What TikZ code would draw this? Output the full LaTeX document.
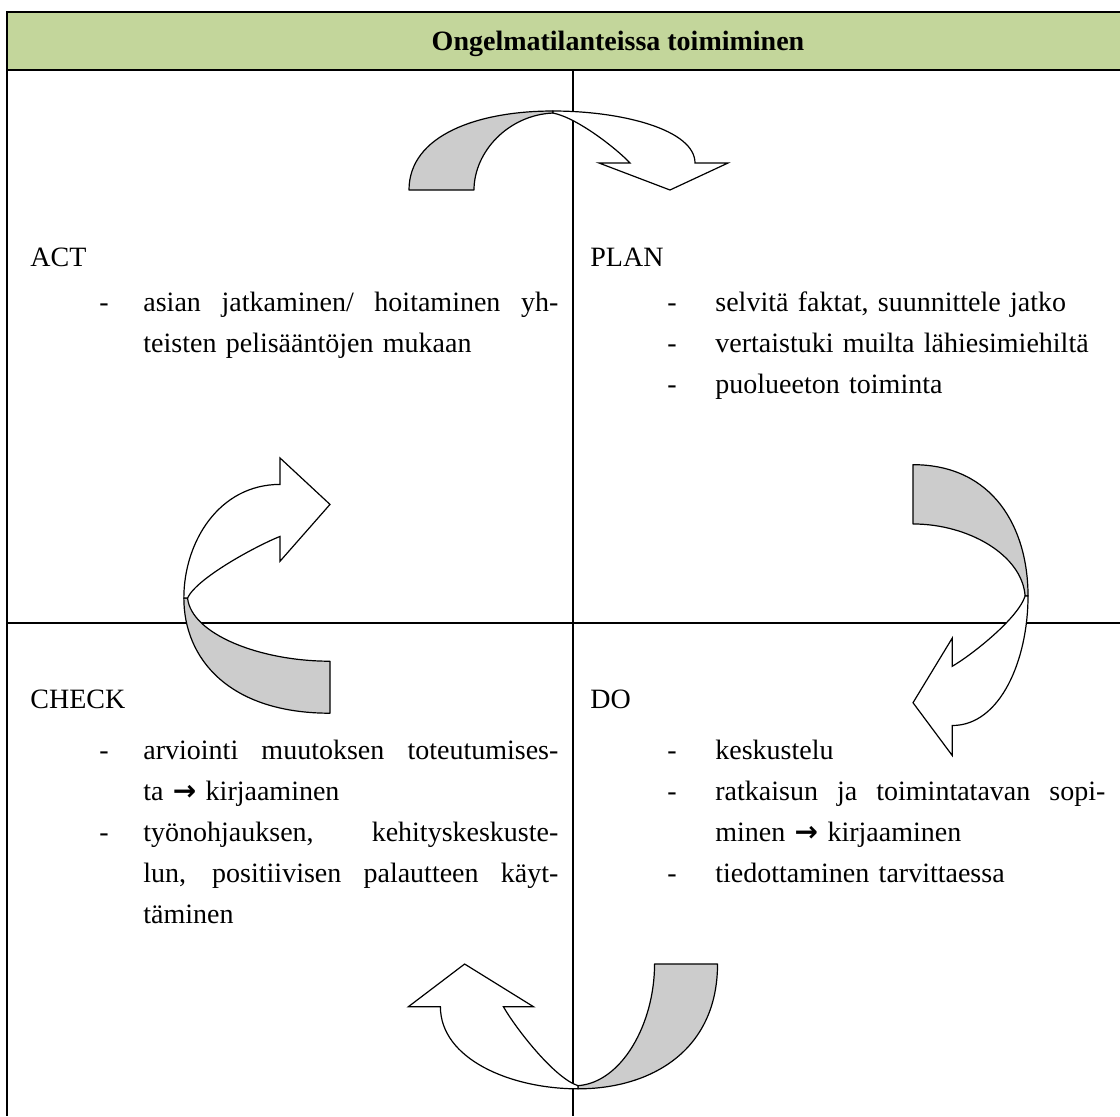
\documentclass[tikz,border=0pt]{standalone}
\usepackage{fontspec}
\setmainfont{Liberation Serif}
\newfontfamily\arrowfont{DejaVu Sans}
\usetikzlibrary{positioning}
\definecolor{headgreen}{RGB}{195,214,155}
\definecolor{backgray}{RGB}{204,204,204}

% justified line of a given width
\newcommand{\jline}[2]{\makebox[#1][s]{\spaceskip=0.25em plus 1fil\relax #2}}
\newcommand{\thenarrow}{{\arrowfont\bfseries →}}

% one curved cycle arrow, drawn in its own frame:
% X along the arrow, Y towards its bend
\tikzset{
    pdca arrow/.pic={
        \path[draw, fill=backgray, line join=round]
            (-144,0) .. controls (-144,55) and (-75,79) .. (0,79) -- (0,77)
            .. controls (-45,75) and (-79,38) .. (-79,0) -- cycle;
        \path[draw, fill=white, line join=miter]
            (0,79) .. controls (70,79) and (142,60) .. (142,27)
            -- (175,27) -- (117,0) -- (46,27) -- (77,27)
            .. controls (65,40) and (25,72) .. (0,77) -- cycle;
    }
}

\begin{document}
\begin{tikzpicture}[
    x=0.5pt, y=-0.5pt,
    font=\fontsize{14}{20.5}\selectfont,
    frame/.style={line width=1.1pt},
    rule/.style={line width=0.75pt},
    arrowline/.style={line width=0.6pt},
    phase/.style={anchor=base west, inner sep=0pt},
    bullet/.style={anchor=base, inner sep=0pt},
    item/.style={anchor=base west, inner sep=0pt, text width=240pt, align=left}
]
\useasboundingbox (0,0) rectangle (1120,1116);

% ------------------ Table ------------------
\fill[headgreen] (7,12) rectangle (1120,70);
\draw[frame] (1120,12) -- (7,12) -- (7,1116);
\draw[frame] (7,70) -- (1120,70);
\draw[rule] (573,70) -- (573,1116);
\draw[rule] (7,623) -- (1120,623);

\node[anchor=base, inner sep=0pt, font=\fontsize{14}{20.5}\selectfont\bfseries] (title) at (618,50) {Ongelmatilanteissa toimiminen};

% ------------------ ACT ------------------
\node[phase] (act) at (30,266) {ACT};
\node[bullet] (actd1) at (104,311) {-};
\node[item] (act1) at (143,311) {\jline{207.5pt}{asian jatkaminen/ hoitaminen yh-}\\teisten pelisääntöjen mukaan};

% ------------------ PLAN ------------------
\node[phase] (plan) at (590,266) {PLAN};
\node[bullet] (pland1) at (672,311) {-};
\node[item] (plan1) at (715,311) {selvitä faktat, suunnittele jatko};
\node[bullet] (pland2) at (672,352) {-};
\node[item] (plan2) at (715,352) {vertaistuki muilta lähiesimiehiltä};
\node[bullet] (pland3) at (672,393) {-};
\node[item] (plan3) at (715,393) {puolueeton toiminta};

% ------------------ CHECK ------------------
\node[phase] (check) at (30,708) {CHECK};
\node[bullet] (checkd1) at (104,759) {-};
\node[item] (check1) at (143,759) {\jline{207.5pt}{arviointi muutoksen toteutumises-}\\ta \thenarrow{} kirjaaminen};
\node[bullet] (checkd2) at (104,841) {-};
\node[item] (check2) at (143,841) {\jline{207.5pt}{työnohjauksen, kehityskeskuste-}\\\jline{207.5pt}{lun, positiivisen palautteen käyt-}\\täminen};

% ------------------ DO ------------------
\node[phase] (do) at (590,708) {DO};
\node[bullet] (dod1) at (672,759) {-};
\node[item] (do1) at (715,759) {keskustelu};
\node[bullet] (dod2) at (672,800) {-};
\node[item] (do2) at (715,800) {\jline{195pt}{ratkaisun ja toimintatavan sopi-}\\minen \thenarrow{} kirjaaminen};
\node[bullet] (dod3) at (672,882) {-};
\node[item] (do3) at (715,882) {tiedottaminen tarvittaessa};

% ------------------ Cycle arrows ------------------
\begin{scope}[arrowline, shift={(276.5pt,-95pt)}, x={(0.5pt,0pt)}, y={(0pt,0.5pt)}]
    \pic (toparrow) {pdca arrow};
\end{scope}
\begin{scope}[arrowline, shift={(456.5pt,-298pt)}, x={(0pt,-0.456pt)}, y={(0.728pt,0pt)}]
    \pic (rightarrow) {pdca arrow};
\end{scope}
\begin{scope}[arrowline, shift={(289pt,-482pt)}, x={(-0.4845pt,0pt)}, y={(0pt,-0.79pt)}]
    \pic (bottomarrow) {pdca arrow};
\end{scope}
\begin{scope}[arrowline, shift={(165pt,-299pt)}, x={(0pt,0.40pt)}, y={(-0.925pt,0pt)}]
    \pic (leftarrow) {pdca arrow};
\end{scope}

\end{tikzpicture}
\end{document}
